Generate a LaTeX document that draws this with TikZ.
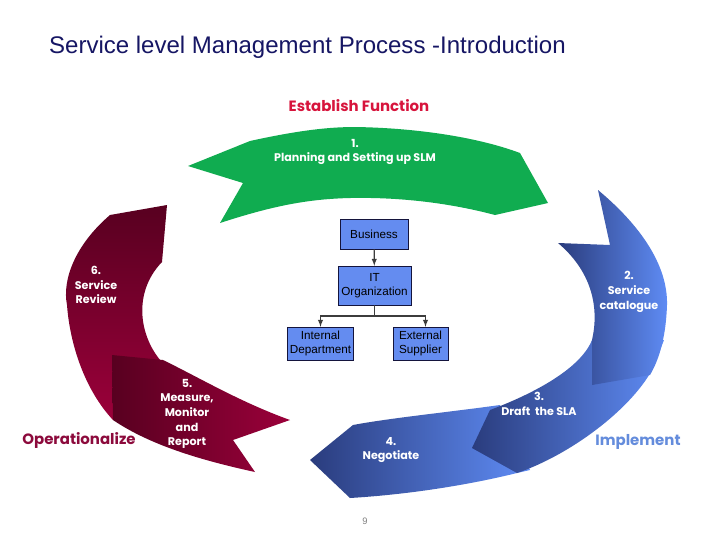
\documentclass[tikz,border=0pt]{standalone}
\usepackage{fontspec}
\setmainfont{Liberation Sans}
\newfontfamily\gothic{Poppins}

\definecolor{titleblue}{RGB}{22,22,100}
\definecolor{slmgreen}{RGB}{16,172,80}
\definecolor{establishred}{RGB}{215,20,60}
\definecolor{opred}{RGB}{140,10,60}
\definecolor{implblue}{RGB}{100,140,220}
\definecolor{boxblue}{RGB}{100,140,240}
\definecolor{boxline}{RGB}{20,20,60}
\definecolor{linkgray}{RGB}{60,60,60}
\definecolor{bluedark}{RGB}{42,60,125}
\definecolor{bluelight}{RGB}{95,140,245}
\definecolor{reddark}{RGB}{88,0,32}
\definecolor{redmid}{RGB}{155,0,58}

\begin{document}
\begin{tikzpicture}[x=0.03cm,y=-0.03cm]

    \tikzset{
      orgbox/.style={
        draw=boxline,
        fill=boxblue,
        align=center,
        inner sep=1pt,
        font=\fontsize{10}{11.5}\selectfont,
      },
      steplabel/.style={
        text=white,
        align=center,
        font=\gothic\bfseries\fontsize{9.5}{12.5}\selectfont,
      },
      phase/.style={
        font=\gothic\bfseries\fontsize{12.75}{15}\selectfont,
      },
      link/.style={draw=linkgray, line width=1pt, -latex},
    }
    \fill[white] (0,0) rectangle (728,546);
    \useasboundingbox (0,0) rectangle (728,546);

    % title and phases
    \node[anchor=west, text=titleblue, font=\fontsize{20.5}{22}\selectfont] (title) at (45,47) {Service level Management Process -Introduction};
    \node[phase, text=establishred] (establish) at (359,106) {Establish Function};
    \node[phase, text=implblue] (implement) at (638,442) {Implement};
    \node[phase, text=opred] (operationalize) at (79,440) {Operationalize};

    % green arrow
    \fill[slmgreen] (188,166) -- (250,141) .. controls (300,130) and (330,127) .. (355,127)
      .. controls (420,128) and (480,138) .. (520,153) -- (548,203) -- (495,215)
      .. controls (450,203) and (400,197) .. (350,198) .. controls (310,199) and (275,205) .. (220,223)
      -- (243,183) -- cycle;

    % blue arrows
    \shade[left color=bluedark, right color=bluelight] (310,460) -- (353,425)
      .. controls (390,418) and (450,412) .. (500,405) -- (530,470) -- (517,473)
      .. controls (460,487) and (400,495) .. (350,498) -- cycle;
    \shade[left color=bluedark, right color=bluelight] (490,410)
      .. controls (530,395) and (580,370) .. (592,340) -- (664,340) -- (652,370)
      .. controls (630,410) and (570,455) .. (517,473) -- (472,448) -- cycle;
    \shade[left color=bluedark, right color=bluelight] (598,190)
      .. controls (640,225) and (668,265) .. (667,305) .. controls (666,335) and (660,358) .. (650,375)
      -- (592,385) -- (592,340) .. controls (600,305) and (590,270) .. (558,243) -- (610,245) -- cycle;

    % red arrows
    \shade[top color=reddark, bottom color=redmid] (167,205) -- (110,215)
      .. controls (75,245) and (62,280) .. (67,305) .. controls (70,345) and (85,390) .. (113,420)
      -- (115,360) -- (170,370) .. controls (140,345) and (130,295) .. (162,262) -- cycle;
    \shade[left color=reddark, right color=redmid] (112,355) -- (163,360)
      .. controls (200,378) and (240,402) .. (290,420) -- (233,440) -- (255,472)
      .. controls (200,460) and (150,445) .. (113,420) -- cycle;

    % step labels
    \node[steplabel] (slm) at (355,152) {1.\\Planning and Setting up SLM};
    \node[steplabel] (catalogue) at (629,292) {2.\\Service\\catalogue};
    \node[steplabel] (draft) at (539,404) {3.\\Draft\ \ the SLA};
    \node[steplabel] (negotiate) at (391,450) {4.\\Negotiate};
    \node[steplabel] (measure) at (187,414) {5.\\Measure,\\Monitor\\and\\Report};
    \node[steplabel] (review) at (96,285) {6.\\Service\\Review};

    % organisation
    \node[orgbox, minimum width=2.04cm, minimum height=0.9cm] (business) at (374,234) {Business};
    \node[orgbox, minimum width=2.19cm, minimum height=1.17cm] (itorg) at (374.5,285.5) {IT\\Organization};
    \node[orgbox, minimum width=1.98cm, minimum height=0.99cm] (internal) at (320.5,343.5) {Internal\\Department};
    \node[orgbox, minimum width=1.65cm, minimum height=0.99cm] (external) at (420.5,343.5) {External\\Supplier};
    \coordinate (split) at (374.5,316);
    \draw[link] (business) -- (itorg);
    \draw[link] (itorg) -- (split) -| (internal);
    \draw[link] (split) -| ([xshift=0.15cm]external.north);

    \node[text=gray, font=\fontsize{8}{10}\selectfont] (pagenum) at (365,521) {9};

\end{tikzpicture}
\end{document}
